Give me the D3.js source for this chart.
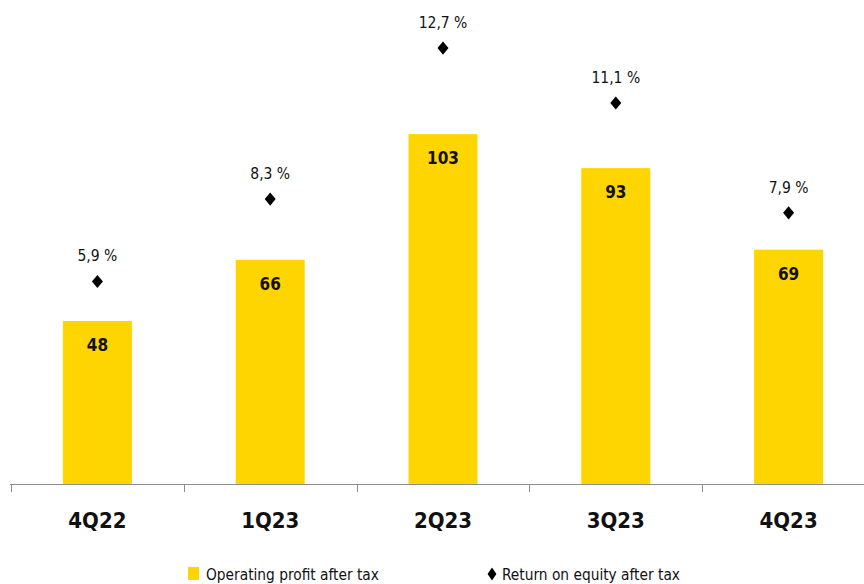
<!DOCTYPE html>
<html>
<head>
<meta charset="utf-8">
<script src="https://cdn.jsdelivr.net/npm/d3@7"></script>
<style>
  body { margin: 0; background: #fff; }
  svg { display: block; font-family: "DejaVu Sans Condensed", "Liberation Sans Narrow", "Arial Narrow", sans-serif; font-stretch: condensed; }
</style>
</head>
<body>
<svg id="chart" width="864" height="584"></svg>
<script>
var quarters = ["4Q22", "1Q23", "2Q23", "3Q23", "4Q23"];
var profit = [48, 66, 103, 93, 69];
var roe = [5.9, 8.3, 12.7, 11.1, 7.9];
var legendLabels = ["Operating profit after tax", "Return on equity after tax"];

var svg = d3.select("#chart");
var baseY = 484;

var x = d3.scaleBand()
    .domain(quarters)
    .range([11, 875])
    .paddingInner(0)
    .paddingOuter(0);

var y = d3.scaleLinear().domain([0, 142.5]).range([baseY, 0]);
var y2 = d3.scaleLinear().domain([0, 14.1]).range([baseY, 0]);

var barW = 69;
var yellow = "#FFD500";

// bars
svg.append("g").selectAll("rect")
    .data(profit)
    .enter().append("rect")
    .attr("x", function(d, i) { return x(quarters[i]) + x.bandwidth() / 2 - barW / 2; })
    .attr("y", function(d) { return y(d); })
    .attr("width", barW)
    .attr("height", function(d) { return baseY - y(d); })
    .attr("fill", yellow);

// bar value labels
svg.append("g").selectAll("text")
    .data(profit)
    .enter().append("text")
    .attr("x", function(d, i) { return x(quarters[i]) + x.bandwidth() / 2; })
    .attr("y", function(d) { return y(d) + 30; })
    .attr("text-anchor", "middle")
    .style("font-size", "17px")
    .style("font-weight", "bold")
    .attr("fill", "#111")
    .text(function(d) { return d; });

// axis
var axis = svg.append("g")
    .attr("transform", "translate(0," + baseY + ")")
    .call(d3.axisBottom(x).tickSize(0).tickFormat(""));
axis.select(".domain").attr("stroke", "#8c8c8c").attr("d", "M10,0.5H864");
axis.selectAll(".tick").remove();

var tickXs = quarters.map(function(q) { return x(q); });
svg.append("g").selectAll("line")
    .data(tickXs)
    .enter().append("line")
    .attr("x1", function(d) { return Math.round(d) + 0.5; })
    .attr("x2", function(d) { return Math.round(d) + 0.5; })
    .attr("y1", baseY)
    .attr("y2", baseY + 8)
    .attr("stroke", "#8c8c8c");

svg.append("g").selectAll("text")
    .data(quarters)
    .enter().append("text")
    .attr("x", function(d) { return x(d) + x.bandwidth() / 2; })
    .attr("y", 528)
    .attr("text-anchor", "middle")
    .style("font-size", "22px")
    .style("font-weight", "bold")
    .attr("fill", "#111")
    .text(function(d) { return d; });

// ROE diamonds
var diamond = d3.symbol().type(d3.symbolDiamond).size(50);
svg.append("g").selectAll("path")
    .data(roe)
    .enter().append("path")
    .attr("d", diamond)
    .attr("transform", function(d, i) {
        return "translate(" + (x(quarters[i]) + x.bandwidth() / 2) + "," + y2(d) + ") scale(1.45,1)";
    })
    .attr("fill", "#000");

svg.append("g").selectAll("text")
    .data(roe)
    .enter().append("text")
    .attr("x", function(d, i) { return x(quarters[i]) + x.bandwidth() / 2; })
    .attr("y", function(d) { return y2(d) - 20; })
    .attr("text-anchor", "middle")
    .style("font-size", "15.5px")
    .attr("fill", "#111")
    .text(function(d) { return d3.format(".1f")(d).replace(".", ",") + " %"; });

// legend
var leg = svg.append("g");
leg.append("rect").attr("x", 188).attr("y", 567).attr("width", 11).attr("height", 13).attr("fill", yellow);
leg.append("text").attr("x", 206).attr("y", 580).style("font-size", "15.3px").attr("fill", "#111").text(legendLabels[0]);
leg.append("path").attr("d", d3.symbol().type(d3.symbolDiamond).size(40)()).attr("transform", "translate(492,574) scale(1.3,1.1)").attr("fill", "#000");
leg.append("text").attr("x", 502).attr("y", 580).style("font-size", "15.3px").attr("fill", "#111").text(legendLabels[1]);
</script>
</body>
</html>
